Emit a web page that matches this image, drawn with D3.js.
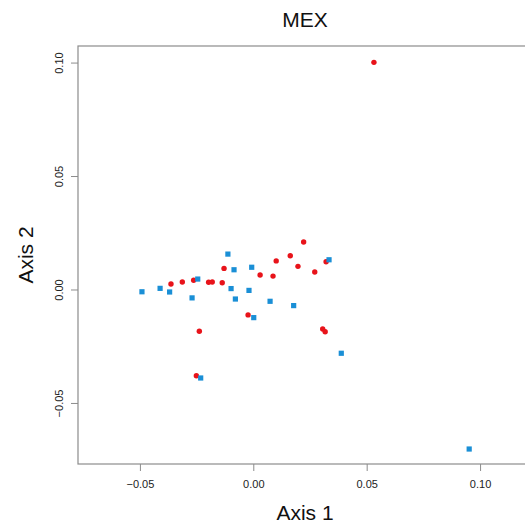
<!DOCTYPE html>
<html><head><meta charset="utf-8">
<script src="https://cdn.jsdelivr.net/npm/d3@7"></script>
<style>
html,body{margin:0;padding:0;background:#fff;overflow:hidden;}
svg{display:block;font-family:"Liberation Sans",Arial,sans-serif;}
</style></head>
<body>
<svg id="chart" width="525" height="532"></svg>
<script>
const title = "MEX";
const xLabel = "Axis 1";
const yLabel = "Axis 2";
const xTicks = [-0.05, 0.00, 0.05, 0.10];
const yTicks = [-0.05, 0.00, 0.05, 0.10];
const redX = [-0.0363,-0.0313,-0.0263,-0.0197,-0.0181,-0.0137,-0.0129,0.0030,0.0087,0.0101,0.0163,0.0197,0.0222,0.0271,0.0321,-0.0023,-0.0238,0.0306,0.0317,-0.0251,0.0532];
const redY = [0.0024,0.0033,0.0041,0.0032,0.0033,0.0030,0.0093,0.0064,0.0059,0.0126,0.0149,0.0102,0.0209,0.0077,0.0122,-0.0112,-0.0184,-0.0174,-0.0186,-0.0380,0.1001];
const blueX = [-0.0491,-0.0411,-0.0369,-0.0270,-0.0245,-0.0112,-0.0085,-0.0098,-0.0079,-0.0007,-0.0019,0.0074,0.0178,0.0002,0.0334,0.0388,-0.0232,0.0952];
const blueY = [-0.0010,0.0005,-0.0011,-0.0037,0.0046,0.0156,0.0087,0.0004,-0.0042,0.0098,-0.0004,-0.0052,-0.0071,-0.0124,0.0131,-0.0281,-0.0390,-0.0703];

const mLeft = 78, mRight = 532, mTop = 46, mBottom = 464;
const x = d3.scaleLinear().domain([-0.0773, 0.1229]).range([mLeft, mRight]);
const y = d3.scaleLinear().domain([-0.0769, 0.1073]).range([mBottom, mTop]);
const svg = d3.select("#chart");
const grey = "#8c8c8c";
const fmt = d3.format(".2f");

// box
svg.append("rect").attr("x", mLeft).attr("y", mTop).attr("width", mRight-mLeft).attr("height", mBottom-mTop)
  .attr("fill","none").attr("stroke", grey).attr("stroke-width",1.2);

// x axis
const xa = svg.append("g").attr("transform",`translate(0,${mBottom})`)
  .call(d3.axisBottom(x).tickValues(xTicks).tickFormat(fmt).tickSize(7).tickPadding(9));
xa.select(".domain").remove();
xa.selectAll("line").attr("stroke", grey);
xa.selectAll("text").attr("font-size", 11).attr("fill","#222").attr("font-family","Liberation Sans, Arial, sans-serif");

// y axis
const ya = svg.append("g").attr("transform",`translate(${mLeft},0)`)
  .call(d3.axisLeft(y).tickValues(yTicks).tickFormat(fmt).tickSize(7).tickPadding(9));
ya.select(".domain").remove();
ya.selectAll("line").attr("stroke", grey);
ya.selectAll("text").attr("font-size", 11).attr("fill","#222").attr("font-family","Liberation Sans, Arial, sans-serif")
  .attr("text-anchor","middle").attr("transform","rotate(-90)")
  .attr("x",0).attr("dy",0).attr("y",-15);

// titles
svg.append("text").attr("x", (mLeft+mRight)/2).attr("y", 27).attr("text-anchor","middle")
  .attr("font-size", 21).attr("fill","#111").text(title);
svg.append("text").attr("x", (mLeft+mRight)/2).attr("y", 520).attr("text-anchor","middle")
  .attr("font-size", 21).attr("fill","#111").text(xLabel);
svg.append("text").attr("transform",`translate(33,${(mTop+mBottom)/2}) rotate(-90)`).attr("text-anchor","middle")
  .attr("font-size", 21).attr("fill","#111").text(yLabel);

// points
const red = redX.map((v,i)=>({x:v,y:redY[i]}));
const blue = blueX.map((v,i)=>({x:v,y:blueY[i]}));
svg.append("g").selectAll("circle").data(red).join("circle")
  .attr("cx", d=>x(d.x)).attr("cy", d=>y(d.y)).attr("r", 2.7).attr("fill","#e8131a");
svg.append("g").selectAll("rect").data(blue).join("rect")
  .attr("x", d=>x(d.x)-2.6).attr("y", d=>y(d.y)-2.6).attr("width",5.2).attr("height",5.2).attr("fill","#1a8fd6");
</script>
</body></html>
